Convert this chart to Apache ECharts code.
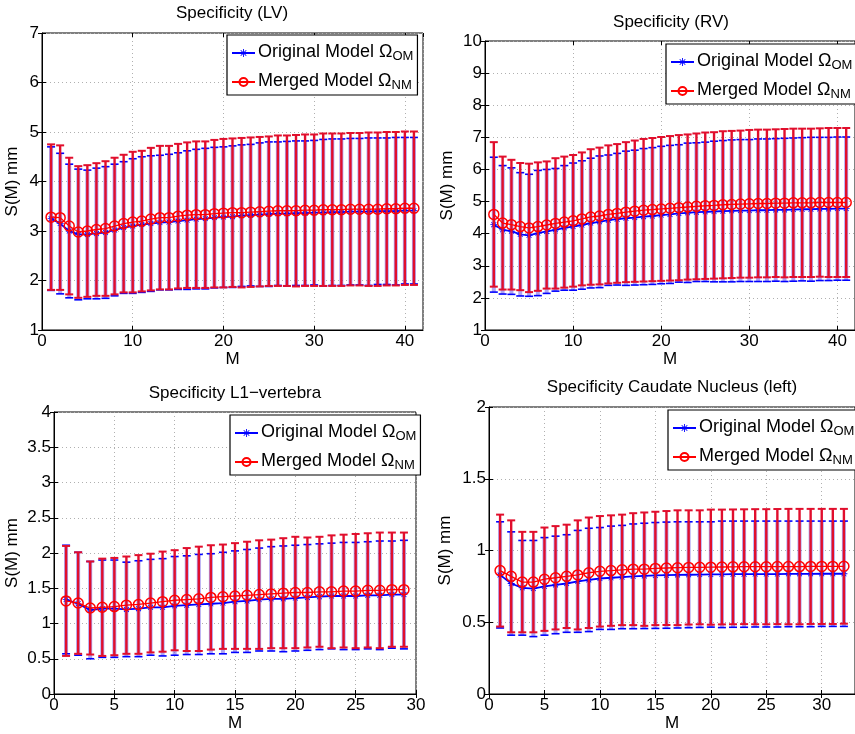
<!DOCTYPE html>
<html>
<head>
<meta charset="utf-8">
<script src="https://cdn.jsdelivr.net/npm/echarts@6/dist/echarts.min.js"></script>
<style>html,body{margin:0;padding:0;background:#fff;}#c{width:855px;height:734px;}</style>
</head>
<body>
<div id="c"></div>
<script>
// ---------- DATA ----------
const titles = ['Specificity (LV)', 'Specificity (RV)', 'Specificity L1\u2212vertebra', 'Specificity Caudate Nucleus (left)'];
const legendNames = ['Original Model', 'Merged Model'];

const lvM = [1,2,3,4,5,6,7,8,9,10,11,12,13,14,15,16,17,18,19,20,21,22,23,24,25,26,27,28,29,30,31,32,33,34,35,36,37,38,39,40,41];
const lvOrigMean = [3.25,3.15,3.00,2.93,2.93,2.95,2.97,3.02,3.07,3.10,3.13,3.15,3.17,3.18,3.20,3.22,3.24,3.25,3.27,3.28,3.29,3.31,3.32,3.33,3.34,3.35,3.35,3.36,3.36,3.37,3.37,3.38,3.38,3.39,3.39,3.39,3.40,3.40,3.40,3.41,3.41];
const lvOrigStd  = [1.45,1.42,1.35,1.32,1.30,1.32,1.33,1.33,1.33,1.36,1.37,1.37,1.36,1.37,1.38,1.40,1.41,1.42,1.42,1.42,1.43,1.43,1.43,1.45,1.46,1.45,1.46,1.46,1.46,1.46,1.48,1.48,1.48,1.48,1.48,1.49,1.48,1.48,1.49,1.48,1.48];
const lvMergMean = [3.28,3.27,3.10,2.98,3.00,3.03,3.05,3.10,3.15,3.18,3.20,3.24,3.27,3.27,3.30,3.32,3.33,3.33,3.35,3.36,3.37,3.37,3.38,3.39,3.40,3.41,3.41,3.41,3.42,3.42,3.43,3.43,3.43,3.44,3.44,3.44,3.44,3.45,3.45,3.46,3.46];
const lvMergStd  = [1.47,1.46,1.38,1.33,1.33,1.34,1.36,1.38,1.39,1.42,1.42,1.44,1.45,1.45,1.46,1.47,1.48,1.48,1.49,1.50,1.50,1.51,1.51,1.51,1.51,1.52,1.52,1.53,1.53,1.53,1.54,1.54,1.54,1.54,1.54,1.55,1.55,1.55,1.55,1.55,1.55];

const rvM = [1,2,3,4,5,6,7,8,9,10,11,12,13,14,15,16,17,18,19,20,21,22,23,24,25,26,27,28,29,30,31,32,33,34,35,36,37,38,39,40,41];
const rvOrigMean = [4.28,4.12,4.08,3.98,3.95,4.02,4.07,4.12,4.18,4.22,4.27,4.33,4.37,4.42,4.45,4.48,4.50,4.53,4.55,4.58,4.60,4.63,4.65,4.67,4.68,4.69,4.70,4.71,4.72,4.72,4.73,4.73,4.74,4.74,4.75,4.76,4.76,4.77,4.77,4.78,4.78];
const rvOrigStd  = [2.10,2.00,1.97,1.92,1.90,1.95,1.93,1.91,1.94,1.98,2.00,2.02,2.05,2.03,2.05,2.09,2.10,2.12,2.13,2.14,2.15,2.14,2.17,2.16,2.17,2.19,2.20,2.21,2.21,2.21,2.22,2.22,2.22,2.23,2.23,2.23,2.24,2.23,2.23,2.23,2.23];
const rvMergMean = [4.60,4.33,4.28,4.22,4.18,4.22,4.27,4.32,4.36,4.40,4.46,4.52,4.55,4.60,4.63,4.67,4.70,4.73,4.75,4.77,4.79,4.81,4.83,4.85,4.87,4.88,4.90,4.91,4.92,4.93,4.94,4.94,4.95,4.95,4.96,4.96,4.96,4.97,4.97,4.97,4.97];
const rvMergStd  = [2.25,2.07,2.02,1.98,2.00,2.00,1.98,2.03,2.04,2.05,2.07,2.11,2.13,2.15,2.16,2.18,2.20,2.22,2.23,2.24,2.25,2.26,2.26,2.27,2.28,2.28,2.29,2.29,2.29,2.30,2.30,2.30,2.30,2.31,2.31,2.31,2.31,2.31,2.32,2.32,2.32];

const l1M = [1,2,3,4,5,6,7,8,9,10,11,12,13,14,15,16,17,18,19,20,21,22,23,24,25,26,27,28,29];
const l1OrigMean = [1.34,1.28,1.19,1.21,1.21,1.20,1.21,1.23,1.23,1.25,1.26,1.27,1.28,1.29,1.31,1.32,1.34,1.35,1.35,1.36,1.37,1.38,1.39,1.39,1.39,1.40,1.40,1.41,1.41];
const l1OrigStd  = [0.77,0.73,0.69,0.69,0.69,0.67,0.68,0.68,0.69,0.70,0.70,0.71,0.71,0.72,0.72,0.73,0.73,0.74,0.75,0.75,0.75,0.75,0.75,0.76,0.76,0.76,0.77,0.76,0.77];
const l1MergMean = [1.32,1.29,1.22,1.23,1.24,1.26,1.27,1.29,1.31,1.33,1.34,1.35,1.37,1.38,1.39,1.40,1.41,1.42,1.43,1.44,1.44,1.45,1.45,1.46,1.46,1.47,1.47,1.48,1.48];
const l1MergStd  = [0.78,0.72,0.66,0.69,0.69,0.69,0.70,0.70,0.71,0.71,0.73,0.74,0.74,0.74,0.75,0.76,0.77,0.77,0.78,0.79,0.78,0.78,0.80,0.80,0.81,0.81,0.82,0.81,0.81];

const cnM = [1,2,3,4,5,6,7,8,9,10,11,12,13,14,15,16,17,18,19,20,21,22,23,24,25,26,27,28,29,30,31,32];
const cnOrigMean = [0.83,0.77,0.74,0.735,0.75,0.76,0.77,0.785,0.795,0.805,0.81,0.815,0.82,0.823,0.826,0.828,0.83,0.831,0.832,0.833,0.834,0.835,0.835,0.836,0.836,0.836,0.837,0.837,0.837,0.838,0.838,0.838];
const cnOrigStd  = [0.37,0.36,0.33,0.335,0.34,0.34,0.34,0.355,0.36,0.355,0.36,0.36,0.365,0.367,0.369,0.37,0.37,0.369,0.368,0.367,0.371,0.37,0.37,0.369,0.369,0.369,0.368,0.368,0.368,0.367,0.367,0.367];
const cnMergMean = [0.86,0.82,0.78,0.78,0.80,0.81,0.82,0.83,0.845,0.855,0.86,0.865,0.87,0.87,0.875,0.878,0.88,0.882,0.883,0.884,0.885,0.886,0.887,0.887,0.887,0.888,0.888,0.888,0.889,0.889,0.889,0.89];
const cnMergStd  = [0.39,0.39,0.35,0.35,0.36,0.36,0.36,0.38,0.385,0.385,0.385,0.385,0.39,0.395,0.395,0.397,0.40,0.398,0.397,0.401,0.40,0.40,0.40,0.401,0.401,0.401,0.402,0.402,0.401,0.401,0.401,0.40];

// axis ranges [min, max, interval]
const xRanges = [[0,42,10],[0,42,10],[0,30,5],[0,33,5]];
const yRanges = [[1,7,1],[1,10,1],[0,4,0.5],[0,2,0.5]];

// ---------- LAYOUT / STYLE ----------
const FONT = '"Liberation Sans", Arial, Helvetica, sans-serif';
const panels = [
  {M: lvM, om: lvOrigMean, os: lvOrigStd, nm: lvMergMean, ns: lvMergStd,
   grid: {left: 42, top: 33, width: 381, height: 297}, yGap: 21, title: [232, 13], legend: [227, 35]},
  {M: rvM, om: rvOrigMean, os: rvOrigStd, nm: rvMergMean, ns: rvMergStd,
   grid: {left: 485, top: 41, width: 370, height: 289}, yGap: 29, title: [671, 22], legend: [666, 44]},
  {M: l1M, om: l1OrigMean, os: l1OrigStd, nm: l1MergMean, ns: l1MergStd,
   grid: {left: 54, top: 412, width: 362, height: 282}, yGap: 33, title: [235, 393], legend: [230, 415]},
  {M: cnM, om: cnOrigMean, os: cnOrigStd, nm: cnMergMean, ns: cnMergStd,
   grid: {left: 489, top: 407, width: 367, height: 287}, yGap: 35, title: [672, 387], legend: [668, 410]}
];

const BLUE = '#0000ff', RED = '#ff0000', REDBAR = '#e10e2c';
const ASTER = 'path://M8.9,0L11.1,0L11.1,20L8.9,20Z M0,8.9L20,8.9L20,11.1L0,11.1Z M2.2,3.8L3.8,2.2L17.8,16.2L16.2,17.8Z M16.2,2.2L17.8,3.8L3.8,17.8L2.2,16.2Z';

function errRender(color, width, capW, vColor, vWidth) {
  return function (params, api) {
    const x = api.value(0), m = api.value(1), s = api.value(2);
    const top = api.coord([x, m + s]);
    const bot = api.coord([x, m - s]);
    const st = {stroke: color, lineWidth: width};
    return {type: 'group', children: [
      {type: 'line', shape: {x1: top[0], y1: top[1], x2: bot[0], y2: bot[1]}, style: {stroke: vColor, lineWidth: vWidth}},
      {type: 'line', shape: {x1: top[0] - capW / 2, y1: top[1], x2: top[0] + capW / 2, y2: top[1]}, style: st},
      {type: 'line', shape: {x1: bot[0] - capW / 2, y1: bot[1], x2: bot[0] + capW / 2, y2: bot[1]}, style: st}
    ]};
  };
}

const grids = [], xAxes = [], yAxes = [], series = [], legends = [], graphics = [];
panels.forEach((p, i) => {
  grids.push(Object.assign({show: true, borderColor: '#000', borderWidth: 1, backgroundColor: 'rgba(0,0,0,0)'}, p.grid));
  const [x0, x1, xi] = xRanges[i];
  const [y0, y1, yi] = yRanges[i];
  xAxes.push({
    gridIndex: i, type: 'value', min: x0, max: x1, interval: xi,
    name: 'M', nameLocation: 'middle', nameGap: 21,
    nameTextStyle: {fontSize: 17, fontFamily: FONT, color: '#000'},
    axisLine: {show: true, onZero: false, lineStyle: {color: '#000', width: 1}},
    axisTick: {show: true, inside: true, length: 4, lineStyle: {color: '#000'}},
    axisLabel: {fontSize: 17, fontFamily: FONT, color: '#000', margin: 3, showMaxLabel: (x1 % xi === 0)},
    splitLine: {show: true, lineStyle: {color: '#b0b0b0', type: [1, 3], width: 1}}
  });
  yAxes.push({
    gridIndex: i, type: 'value', min: y0, max: y1, interval: yi,
    name: 'S(M) mm', nameLocation: 'middle', nameGap: p.yGap, nameRotate: 90,
    nameTextStyle: {fontSize: 17, fontFamily: FONT, color: '#000'},
    axisLine: {show: true, onZero: false, lineStyle: {color: '#000', width: 1}},
    axisTick: {show: true, inside: true, length: 4, lineStyle: {color: '#000'}},
    axisLabel: {fontSize: 17, fontFamily: FONT, color: '#000', margin: 3},
    splitLine: {show: true, lineStyle: {color: '#b0b0b0', type: [1, 3], width: 1}}
  });
  // mirrored tick axes (top / right)
  xAxes.push({
    gridIndex: i, type: 'value', position: 'top', min: x0, max: x1, interval: xi,
    axisLine: {show: false}, axisLabel: {show: false}, splitLine: {show: false},
    axisTick: {show: true, inside: true, length: 4, lineStyle: {color: '#000'}}
  });
  yAxes.push({
    gridIndex: i, type: 'value', position: 'right', min: y0, max: y1, interval: yi,
    axisLine: {show: false}, axisLabel: {show: false}, splitLine: {show: false},
    axisTick: {show: true, inside: true, length: 4, lineStyle: {color: '#000'}}
  });
  const xa = i * 2, ya = i * 2;
  const omData = p.M.map((m, k) => [m, p.om[k], p.os[k]]);
  const nmData = p.M.map((m, k) => [m, p.nm[k], p.ns[k]]);
  series.push({
    name: 'errOM' + i, type: 'custom', xAxisIndex: xa, yAxisIndex: ya, z: 2,
    renderItem: errRender(BLUE, 1.6, 8, 'rgba(110,90,230,0.55)', 4),
    encode: {x: 0, y: 1}, data: omData, silent: true, clip: false
  });
  series.push({
    name: legendNames[0], type: 'line', xAxisIndex: xa, yAxisIndex: ya, z: 3,
    data: p.M.map((m, k) => [m, p.om[k]]),
    symbol: ASTER, symbolSize: 7,
    lineStyle: {color: BLUE, width: 1.8},
    itemStyle: {color: BLUE},
    animation: false
  });
  series.push({
    name: 'errNM' + i, type: 'custom', xAxisIndex: xa, yAxisIndex: ya, z: 4,
    renderItem: errRender(REDBAR, 2, 8, REDBAR, 2.4),
    encode: {x: 0, y: 1}, data: nmData, silent: true, clip: false
  });
  series.push({
    name: legendNames[1], type: 'line', xAxisIndex: xa, yAxisIndex: ya, z: 5,
    data: p.M.map((m, k) => [m, p.nm[k]]),
    symbol: 'circle', symbolSize: 10,
    lineStyle: {color: RED, width: 1.3},
    itemStyle: {color: 'rgba(255,255,255,0)', borderColor: RED, borderWidth: 1.5},
    animation: false
  });
  legends.push({
    data: legendNames, orient: 'vertical', left: p.legend[0], top: p.legend[1],
    backgroundColor: '#fff', borderColor: '#000', borderWidth: 1.2,
    padding: [3, 4, 3, 4], itemGap: 4, itemWidth: 23, itemHeight: 10,
    selectedMode: false,
    formatter: function (name) {
      return name === legendNames[0] ? '{a|Original Model \u03A9}{s|OM}' : '{a|Merged Model \u03A9}{s|NM}';
    },
    textStyle: {
      fontFamily: FONT, color: '#000', fontSize: 18, padding: [0, 0, 0, -2],
      rich: {
        a: {fontSize: 18, fontFamily: FONT, color: '#000', lineHeight: 20, verticalAlign: 'top'},
        s: {fontSize: 13, fontFamily: FONT, color: '#000', lineHeight: 14, padding: [12, 0, 0, 0], verticalAlign: 'bottom'}
      }
    }
  });
  graphics.push({
    type: 'text', x: p.title[0], y: p.title[1], z: 100,
    style: {text: titles[i], align: 'center', verticalAlign: 'middle', fontSize: 17, fontFamily: FONT, fill: '#000'}
  });
});

const chart = echarts.init(document.getElementById('c'), null, {renderer: 'canvas'});
chart.setOption({
  animation: false,
  backgroundColor: '#fff',
  grid: grids, xAxis: xAxes, yAxis: yAxes, series: series, legend: legends, graphic: graphics
});
</script>
</body>
</html>
